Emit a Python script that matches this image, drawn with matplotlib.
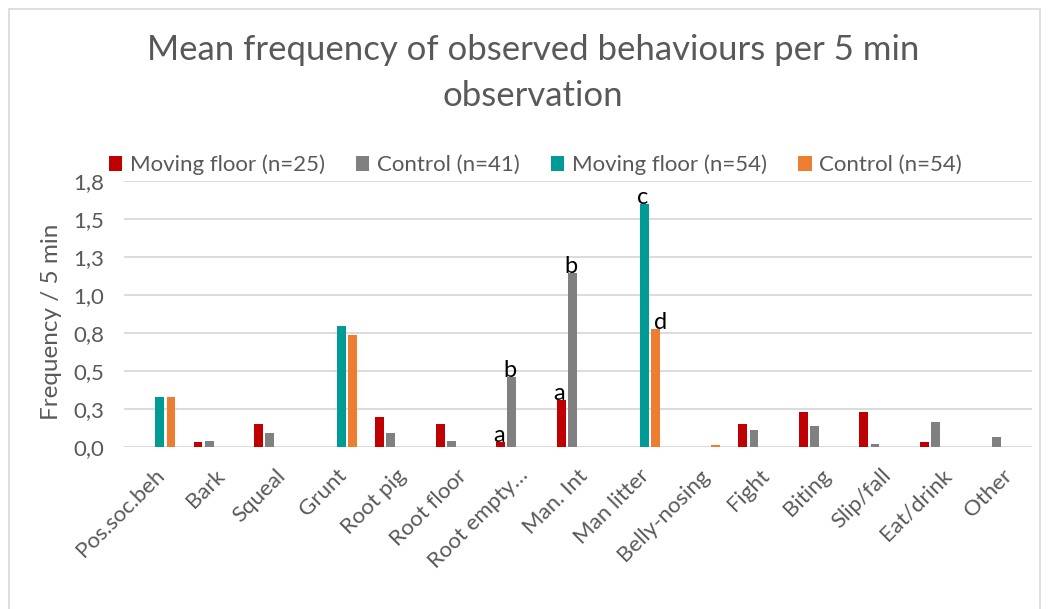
import numpy as np
import matplotlib.pyplot as plt
from matplotlib.patches import Rectangle

plt.rcParams['font.family'] = ['Lato', 'DejaVu Sans']

categories = ["Pos.soc.beh", "Bark", "Squeal", "Grunt", "Root pig", "Root floor",
              "Root empty\u2026", "Man. Int", "Man litter", "Belly-nosing", "Fight",
              "Biting", "Slip/fall", "Eat/drink", "Other"]

moving_25 = [0, 0.035, 0.155, 0, 0.197, 0.155, 0.033, 0.312, 0, 0, 0.155, 0.234, 0.234, 0.033, 0]
control_41 = [0, 0.043, 0.092, 0, 0.092, 0.043, 0.459, 1.144, 0, 0, 0.114, 0.140, 0.020, 0.166, 0.070]
moving_54 = [0.328, 0, 0, 0.794, 0, 0, 0, 0, 1.597, 0, 0, 0, 0, 0, 0]
control_54 = [0.328, 0, 0, 0.737, 0, 0, 0, 0, 0.774, 0.013, 0, 0, 0, 0, 0]

series_names = ["Moving floor (n=25)", "Control (n=41)", "Moving floor (n=54)", "Control (n=54)"]
colors = ["#C00000", "#808080", "#009B95", "#ED7D31"]

yticks = [0, 0.25, 0.5, 0.75, 1.0, 1.25, 1.5, 1.75]
ytick_labels = ["0,0", "0,3", "0,5", "0,8", "1,0", "1,3", "1,5", "1,8"]

# significance letters: (category index, series index, letter)
letters = [(6, 0, "a"), (6, 1, "b"), (7, 0, "a"), (7, 1, "b"), (8, 2, "c"), (8, 3, "d")]

txt = "#595959"
W, H = 1051, 609
fig = plt.figure(figsize=(W / 100, H / 100), dpi=100)
ax = fig.add_axes([124 / W, 1 - 447.3 / H, 908 / W, (447.3 - 180.7) / H])

x = np.arange(len(categories))
slot = 0.185
all_series = [moving_25, control_41, moving_54, control_54]
for k, (vals, name, c) in enumerate(zip(all_series, series_names, colors)):
    ax.bar(x + (k - 1.5) * slot, vals, width=0.145, color=c, label=name, zorder=3)

for ci, si, letter in letters:
    xx = ci + (si - 1.5) * slot - 0.03
    if letter == "d":
        xx += 0.11
    ax.text(xx, all_series[si][ci] - 0.025, letter, ha="center", va="bottom",
            fontsize=17, color="black", zorder=4)

ax.set_xlim(-0.5, len(categories) - 0.5)
ax.set_ylim(0, 1.75)
ax.set_yticks(yticks)
ax.set_yticklabels(ytick_labels)
ax.set_xticks(x)
ax.set_xticklabels(categories, rotation=45, ha="right", rotation_mode="anchor")
ax.tick_params(axis="both", length=0, colors=txt, labelsize=16)
ax.tick_params(axis="y", pad=14)
ax.tick_params(axis="x", pad=13)
ax.grid(axis="y", color="#D9D9D9", linewidth=1.3, zorder=0)
for s in ax.spines.values():
    s.set_visible(False)

fig.text(52 / W, 1 - 322 / H, "Frequency / 5 min", rotation=90, ha="center", va="center",
         fontsize=17.5, color=txt)
fig.text(533 / W, 1 - 73 / H, "Mean frequency of observed behaviours per 5 min\nobservation",
         ha="center", va="center", fontsize=25, color=txt, linespacing=1.5)

fig.legend(loc="center left", bbox_to_anchor=(100 / W, 1 - 165 / H), ncol=4, frameon=False,
           fontsize=16, labelcolor=txt, handlelength=0.6, handleheight=0.6,
           handletextpad=0.35, columnspacing=1.4, borderaxespad=0)

fig.patches.append(Rectangle((9 / W, -0.01), 1031 / W, 1 - 9 / H + 0.01, transform=fig.transFigure,
                             fill=False, edgecolor="#D9D9D9", linewidth=1.2))

fig.savefig("out.png", dpi=100)
